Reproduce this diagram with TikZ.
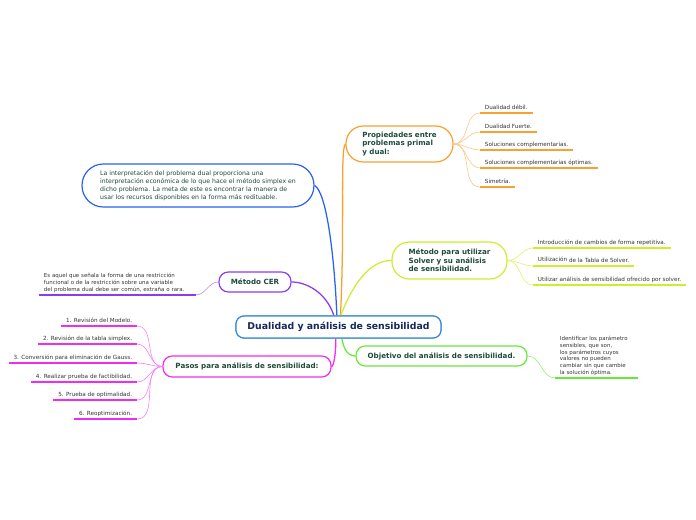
\documentclass[tikz,border=0pt]{standalone}
\usepackage{fontspec}
\setmainfont{DejaVu Sans}
\definecolor{corange}{HTML}{F7A230}
\definecolor{clime}{HTML}{CDEE2E}
\definecolor{cgreen}{HTML}{66E83A}
\definecolor{cpink}{HTML}{F02CF0}
\definecolor{cpurple}{HTML}{8A3CF0}
\definecolor{cblue}{HTML}{2A62F0}
\definecolor{ccenter}{HTML}{3A8DD8}
\definecolor{tbox}{HTML}{1E4A3C}
\definecolor{tcenter}{HTML}{17285A}
\definecolor{titem}{HTML}{333333}
\begin{document}
\begin{tikzpicture}[x=0.75pt,y=-0.75pt,
  box/.style={draw, fill=white, line width=0.9pt, text=tbox, align=left,
    font=\fontsize{5.35pt}{6.4pt}\selectfont\bfseries, inner sep=0pt},
  mainline/.style={line width=0.95pt},
  subline/.style={line width=0.45pt},
  uline/.style={line width=1.5pt},
  itembase/.style={text=titem, font=\fontsize{4.25pt}{5pt}\selectfont, inner xsep=3.5pt,
    inner ysep=2.2pt},
  item/.style={itembase, text depth=0.2pt},
  itemr/.style={item, anchor=south east},
  iteml/.style={item, anchor=south west},
  multi/.style={itembase, anchor=south west, align=left, inner ysep=1.6pt}]
\useasboundingbox (0,0) rectangle (696,520);

% center
\node[draw=ccenter, fill=white, line width=0.9pt, rounded corners=6pt,
  minimum width=153.75pt, minimum height=16.5pt, inner sep=0pt, text=tcenter,
  font=\fontsize{7pt}{8pt}\selectfont\bfseries] (c) at (338.5,327)
  {Dualidad y análisis de sensibilidad};

% main boxes
\node[box, draw=corange, rounded corners=13pt, minimum width=80.25pt, minimum height=27pt] (pp) at (399.5,144)
  {Propiedades entre\\problemas primal\\y dual:};
\node[box, draw=clime, rounded corners=13pt, minimum width=86.25pt, minimum height=27.75pt] (ms) at (449.5,260.5)
  {Método para utilizar\\Solver y su análisis\\de sensibilidad.};
\node[box, draw=cgreen, rounded corners=7pt, minimum width=128.25pt, minimum height=15pt] (ob) at (441.5,356)
  {Objetivo del análisis de sensibilidad.};
\node[box, draw=cpink, rounded corners=7pt, minimum width=126pt, minimum height=15.75pt] (pa) at (247,366.5)
  {Pasos para análisis de sensibilidad:};
\node[box, draw=cpurple, rounded corners=7pt, minimum width=54pt, minimum height=15pt] (cer) at (255,282)
  {Método CER};
\node[box, draw=cblue, rounded corners=16pt, minimum width=174pt, minimum height=32.25pt,
  font=\fontsize{4.64pt}{6pt}\selectfont] (bl) at (198,185.5)
  {La interpretación del problema dual proporciona una\\interpretación económica de lo que hace el método simplex en\\dicho problema. La meta de este es encontrar la manera de\\usar los recursos disponibles en la forma más redituable.};

% start points on center
\coordinate (so) at ([xshift=1.5pt]c.north);
\coordinate (sb) at ([xshift=-1.2pt]c.north);
\coordinate (sp) at ([xshift=-3.5pt]c.north);
\coordinate (sl) at ([xshift=1.8pt]c.north);
\coordinate (sk) at ([xshift=-2pt]c.south);
\coordinate (sg) at ([xshift=2.5pt]c.south);

% main connectors
\draw[mainline, corange] (so) .. controls (345,220) and (340,150) .. (pp.west);
\draw[mainline, cblue] (sb) .. controls (334,250) and (326,192) .. (bl.east);
\draw[mainline, cpurple] (sp) .. controls (326,292) and (306,282) .. (cer.east);
\draw[mainline, clime] (sl) .. controls (352,285) and (370,260) .. (ms.west);
\draw[mainline, cpink] (sk) .. controls (336,352) and (334,366) .. (pa.east);
\draw[mainline, cgreen] (sg) .. controls (344,350) and (348,356) .. (ob.west);
\node[draw=ccenter, fill=white, line width=0.9pt, rounded corners=6pt,
  minimum width=153.75pt, minimum height=16.5pt, inner sep=0pt, text=tcenter,
  font=\fontsize{7pt}{8pt}\selectfont\bfseries] at (338.5,327)
  {Dualidad y análisis de sensibilidad};

% orange items
\node[iteml] (o1) at (480,113) {Dualidad débil.};
\node[iteml] (o2) at (480,132) {Dualidad Fuerte.};
\node[iteml] (o3) at (480,150) {Soluciones complementarias.};
\node[iteml] (o4) at (480,168) {Soluciones complementarias óptimas.};
\node[iteml] (o5) at (480,187) {Simetría.};
\foreach \n in {o1,o2,o3,o4,o5}{
  \draw[subline, corange!60] (pp.east) to[out=0,in=180] (\n.south west);
  \draw[uline, corange] (\n.south west) -- (\n.south east);
}

% lime items
\node[iteml] (l1) at (533,248) {Introducción de cambios de forma repetitiva.};
\node[iteml] (l2) at (533,266) {\raisebox{0.9pt}{Utilización} de la Tabla de Solver.};
\node[iteml] (l3) at (533,285) {Utilizar análisis de sensibilidad ofrecido por solver.};
\foreach \n in {l1,l2,l3}{
  \draw[subline, clime!70] (ms.east) to[out=0,in=180] (\n.south west);
  \draw[uline, clime] (\n.south west) -- (\n.south east);
}

% pink items
\node[itemr] (p1) at (137,326) {1. Revisión del Modelo.};
\node[itemr] (p2) at (137,344) {2. Revisión de la tabla simplex.};
\node[itemr] (p3) at (137,363) {3. Conversión para eliminación de Gauss.};
\node[itemr] (p4) at (137,382) {4. Realizar prueba de factibilidad.};
\node[itemr] (p5) at (137,400) {5. Prueba de optimalidad.};
\node[itemr] (p6) at (137,419) {6. Reoptimización.};
\foreach \n in {p1,p2,p3,p4,p5,p6}{
  \draw[subline, cpink!60] (pa.west) to[out=180,in=0] (\n.south east);
  \draw[uline, cpink] (\n.south west) -- (\n.south east);
}

% CER description
\node[multi, text width=110pt, font=\fontsize{4.1pt}{5.2pt}\selectfont] (cd) at (39,295)
  {Es aquel que señala la forma de una restricción\\funcional o de la restricción sobre una variable\\del problema dual debe ser común, extraña o rara.};
\draw[subline, cpurple!60] (cer.west) to[out=180,in=0] (cd.south east);
\draw[uline, cpurple] (cd.south west) -- (cd.south east);

% Objetivo description
\node[multi, text width=54.5pt, font=\fontsize{4.1pt}{5.1pt}\selectfont] (od) at (555,378)
  {Identificar los parámetro\\sensibles, que son,\\los parámetros cuyos\\valores no pueden\\cambiar sin que cambie\\la solución óptima.};
\draw[subline, cgreen!70] (ob.east) to[out=0,in=180] (od.south west);
\draw[uline, cgreen] (od.south west) -- (od.south east);
\end{tikzpicture}
\end{document}
